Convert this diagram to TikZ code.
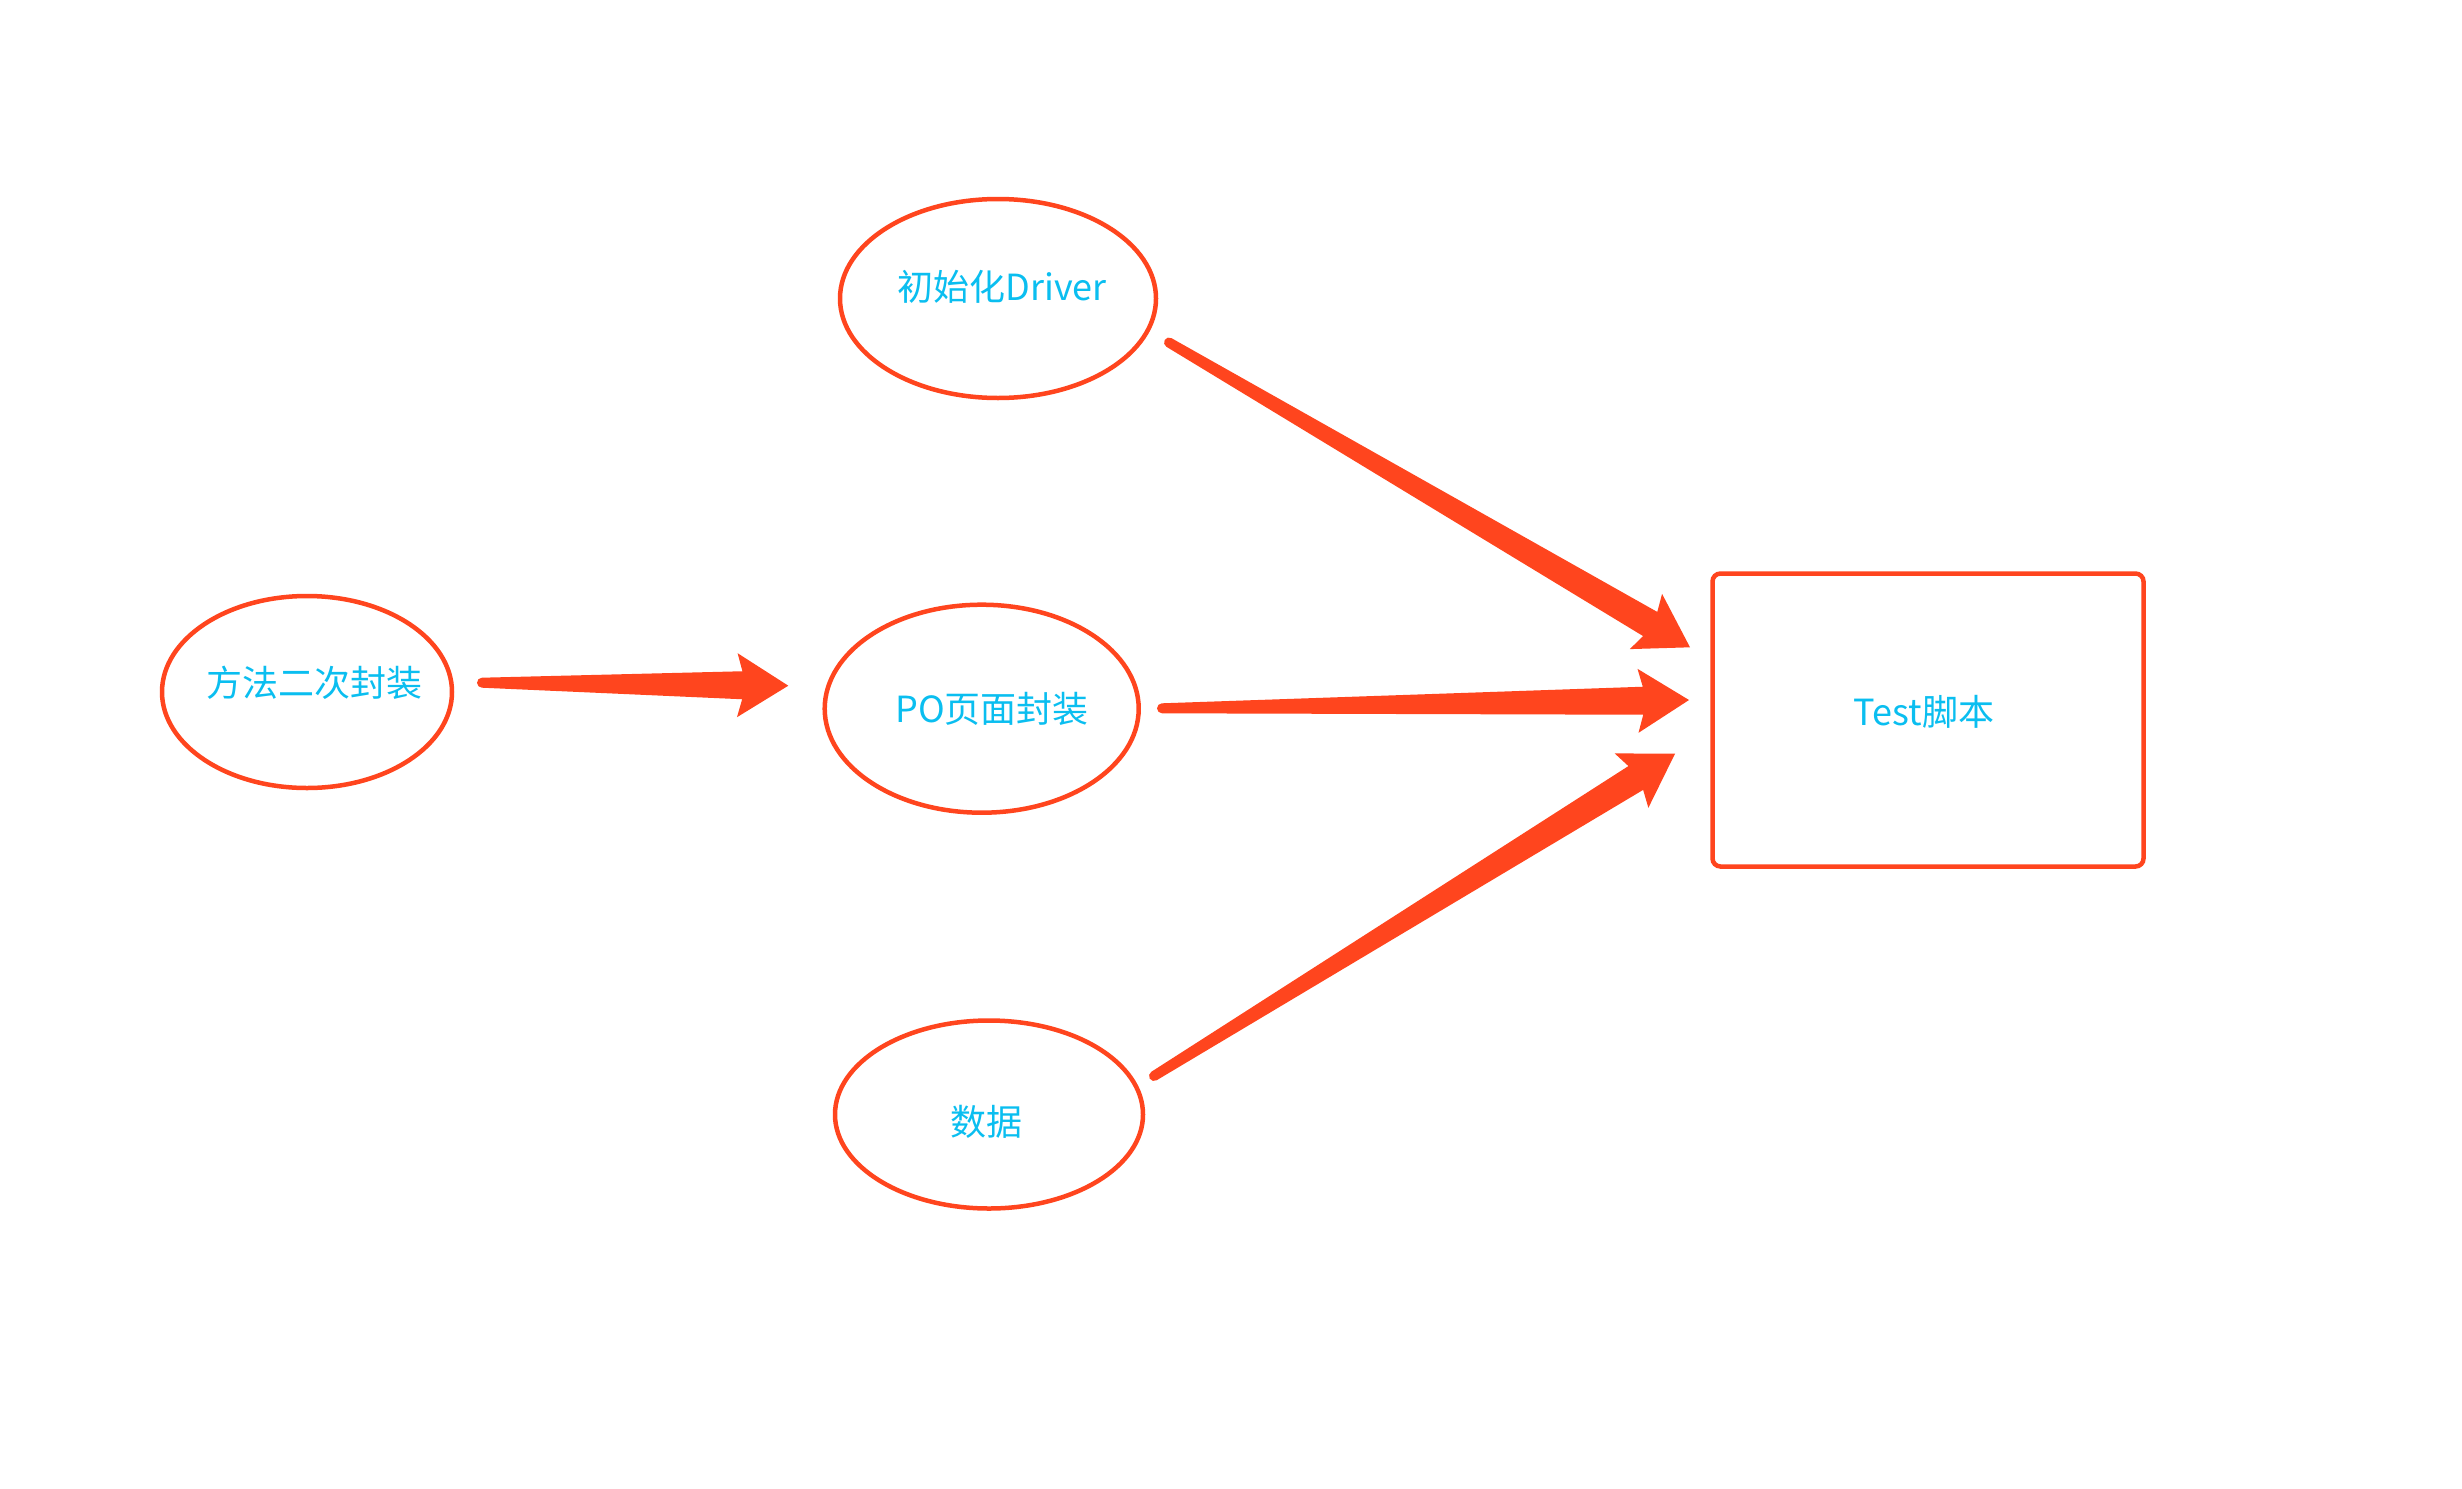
\documentclass[tikz,border=0pt]{standalone}
\usepackage{fontspec}
\setmainfont{Noto Sans CJK SC}
\usetikzlibrary{shapes.geometric,calc}
\definecolor{arrowred}{RGB}{255,69,30}
\definecolor{labelblue}{RGB}{10,190,240}
\tikzset{
  oval/.style={ellipse, draw=arrowred, line width=4.5pt, inner sep=0pt},
  boxnode/.style={rectangle, draw=arrowred, line width=4.5pt, rounded corners=8pt, inner sep=0pt},
  lbl/.style={anchor=base, text=labelblue, inner sep=0pt, font=\fontsize{36}{43}\selectfont},
}
\newcommand\taperarrow[2]{%
  \fill[arrowred] let \p1=($(#2)-(#1)$), \n1={atan2(\y1,\x1)},
      \n3={veclen(\x1,\y1)-46}, \n4={veclen(\x1,\y1)-51} in
    ($(#1)+(\n1+90:5)$)
    -- ($(#1)+(\n1:\n3)+(\n1+90:14)$)
    -- ($(#1)+(\n1:\n4)+(\n1+90:32)$)
    -- (#2)
    -- ($(#1)+(\n1:\n4)+(\n1-90:32)$)
    -- ($(#1)+(\n1:\n3)+(\n1-90:14)$)
    -- ($(#1)+(\n1-90:5)$)
    arc[start angle=\n1-90, delta angle=-180, radius=5]
    -- cycle;
}
\begin{document}
\begin{tikzpicture}[x=1pt,y=1pt]
  \fill[white] (0,0) rectangle (2462,-1488);
  \path[use as bounding box] (0,0) rectangle (2462,-1488);

  % nodes
  \node[oval, minimum width=316pt, minimum height=199pt] (drv) at (998,-298.5) {};
  \node[oval, minimum width=290pt, minimum height=192pt] (meth) at (307,-692) {};
  \node[oval, minimum width=314pt, minimum height=208pt] (po) at (981.7,-708.7) {};
  \node[oval, minimum width=308pt, minimum height=188pt] (data) at (989,-1114.5) {};
  \node[boxnode, minimum width=431pt, minimum height=293pt] (test) at (1928,-720) {};

  % labels
  \node[lbl] (ldrv) at (1002,-300.5) {初始化Driver};
  \node[lbl] (lmeth) at (314,-696.5) {方法二次封装};
  \node[lbl] (lpo) at (992,-722.5) {PO页面封装};
  \node[lbl] (ldata) at (986,-1135) {数据};
  \node[lbl] (ltest) at (1924,-725.5) {Test脚本};

  % connector ends
  \coordinate (t1) at (1169,-342.5);  \coordinate (h1) at (1690,-647.3);
  \coordinate (t2) at (1162,-708.3);  \coordinate (h2) at (1689,-700);
  \coordinate (t3) at (1154,-1076);   \coordinate (h3) at (1675,-753.7);
  \coordinate (t4) at (482,-682.7);   \coordinate (h4) at (788.3,-685.7);

  \taperarrow{t1}{h1}
  \taperarrow{t2}{h2}
  \taperarrow{t3}{h3}
  \taperarrow{t4}{h4}
\end{tikzpicture}
\end{document}
